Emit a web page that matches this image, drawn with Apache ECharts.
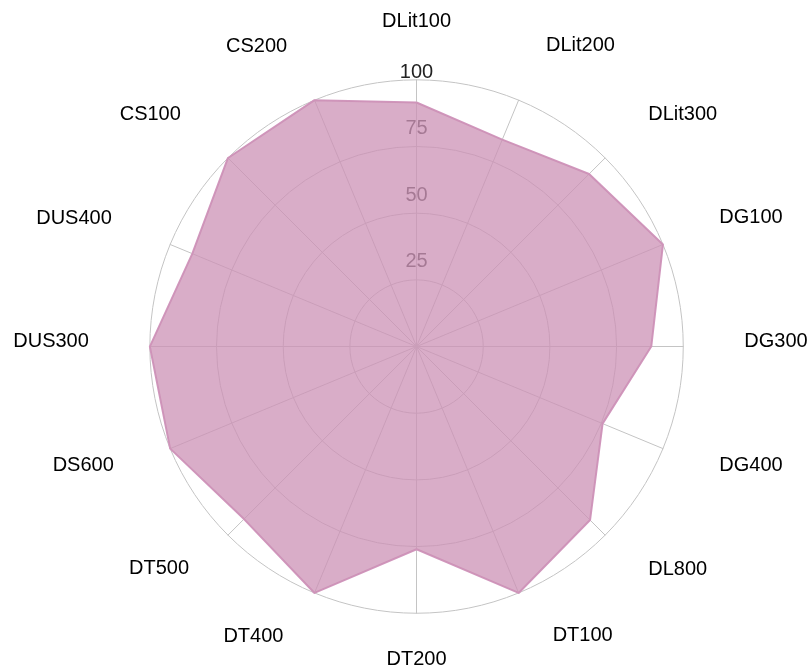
<!DOCTYPE html>
<html>
<head>
<meta charset="utf-8">
<script src="https://cdn.jsdelivr.net/npm/echarts@6/dist/echarts.min.js"></script>
<style>
html,body{margin:0;padding:0;background:#fff;}
#chart{width:812px;height:669px;}
</style>
</head>
<body>
<div id="chart"></div>
<script>
// Categories clockwise from the top
const categories = ['DLit100','DLit200','DLit300','DG100','DG300','DG400','DL800','DT100',
  'DT200','DT400','DT500','DS600','DUS300','DUS400','CS100','CS200'];
const values = [91.5, 84, 91.5, 100, 88, 75.5, 92, 100, 76, 100, 91.5, 100, 100, 91, 100, 100];
const axisMax = 100;
const tickLabels = ['25','50','75','100'];

// Label placement tweaks per category: gap from the circle, horizontal pad, vertical nudge (px, + = down)
const nameGaps = [48, 61, 61, 61, 61, 61, 61, 55, 36, 55, 55, 61, 61, 61, 61, 61];
const namePadX = [0, 4, 0, 0, 0, 0, 0, 13, 0, 10, 0, 0, 0, 2, 4, 4];
const nameDy   = [0, 2, 0, -4, -5, -6, -9, -8, 0, -7, -6, -6, -5, -3, 0, 3];

// ECharts radar runs counter-clockwise: reverse all but the first
const order = [0].concat(categories.map((_, i) => i).slice(1).reverse());
const indicator = order.map((i, k) => {
  const ts = {};
  const ang = Math.PI / 2 - i * Math.PI * 2 / categories.length;
  const c = Math.cos(ang);
  if (Math.abs(c) > 1e-3 && namePadX[i]) {
    ts.padding = c > 0 ? [0, 0, 0, namePadX[i]] : [0, namePadX[i], 0, 0];
  }
  if (nameDy[i] < 0) { ts.verticalAlign = 'bottom'; ts.lineHeight = -2 * nameDy[i]; }
  else if (nameDy[i] > 0 && i !== 0 && i !== 8) { ts.verticalAlign = 'top'; ts.lineHeight = 2 * nameDy[i]; }
  const o = { name: categories[i], max: axisMax, min: 0, nameGap: nameGaps[i], nameTextStyle: ts };
  if (k === 0) o.axisLabel = { show: true };
  return o;
});
const seriesValues = order.map(i => values[i]);

const chart = echarts.init(document.getElementById('chart'));
chart.setOption({
  animation: false,
  radar: {
    center: ['51.3%', '51.8%'],
    radius: 266.7,
    startAngle: 90,
    shape: 'circle',
    splitNumber: 4,
    indicator: indicator,
    axisName: { color: '#000', fontSize: 20, fontFamily: 'Liberation Sans, Arial, sans-serif' },
    nameGap: 61,
    axisLine: { show: true, lineStyle: { color: '#c4c4c4', width: 1 } },
    splitLine: { show: true, lineStyle: { color: '#c4c4c4', width: 1 } },
    splitArea: { show: false },
    axisTick: { show: false },
    axisLabel: {
      show: false,
      showMinLabel: false,
      margin: 0,
      align: 'center',
      verticalAlign: 'bottom',
      fontSize: 20,
      fontFamily: 'Liberation Sans, Arial, sans-serif',
      color: '#333',
      padding: [0, 0, 8, 0],
      formatter: function (v) {
        const s = String(v);
        if (tickLabels.indexOf(s) < 0) return '';
        return s === '100' ? '{top|' + s + '}' : s;
      },
      rich: {
        top: { color: '#222', fontSize: 20, fontFamily: 'Liberation Sans, Arial, sans-serif', padding: [0, 0, -11, 0] }
      }
    }
  },
  series: [{
    type: 'radar',
    symbol: 'none',
    lineStyle: { color: '#d197bd', width: 2, opacity: 1 },
    areaStyle: { color: 'rgb(204,146,182)', opacity: 0.75 },
    data: [{ value: seriesValues }]
  }]
});
</script>
</body>
</html>
